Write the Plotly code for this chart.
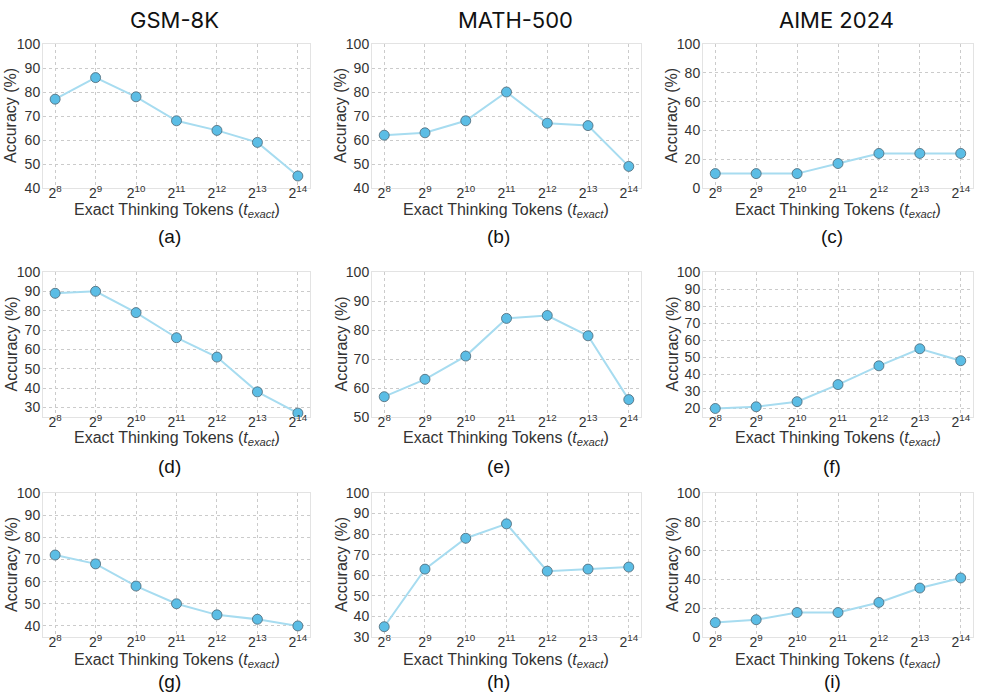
import plotly.graph_objects as go
import math

tokens = [256, 512, 1024, 2048, 4096, 8192, 16384]
tick_text = ["2<sup>8</sup>", "2<sup>9</sup>", "2<sup>10</sup>", "2<sup>11</sup>",
             "2<sup>12</sup>", "2<sup>13</sup>", "2<sup>14</sup>"]

datasets = ["GSM-8K", "MATH-500", "AIME 2024"]
panel_labels = ["(a)", "(b)", "(c)", "(d)", "(e)", "(f)", "(g)", "(h)", "(i)"]

acc_a = [77, 86, 78, 68, 64, 59, 45]
acc_b = [62, 63, 68, 80, 67, 66, 49]
acc_c = [10, 10, 10, 17, 24, 24, 24]
acc_d = [89, 90, 79, 66, 56, 38, 27]
acc_e = [57, 63, 71, 84, 85, 78, 56]
acc_f = [20, 21, 24, 34, 45, 55, 48]
acc_g = [72, 68, 58, 50, 45, 43, 40]
acc_h = [35, 63, 78, 85, 62, 63, 64]
acc_i = [10, 12, 17, 17, 24, 34, 41]

series = [acc_a, acc_b, acc_c, acc_d, acc_e, acc_f, acc_g, acc_h, acc_i]
y_ranges = [[40, 100], [40, 100], [0, 100],
            [25, 100], [50, 100], [15, 100],
            [35, 100], [30, 100], [0, 100]]
y_dticks = [10, 10, 20, 10, 10, 10, 10, 10, 20]

W, H = 997, 695
col_px = [(43, 310), (372, 641), (703, 973)]
row_px = [(44, 188), (272, 417), (493, 637)]
title_x_px = [174, 515, 836]
label_x_px = [169, 498, 832]
ytitle_x_px = [11, 341, 672]
xtitle_y_px = [210, 438, 660]
label_y_px = [236, 466, 681]


def px(v):
    return v / W


def py(v):
    return 1 - v / H


LINE = "#a7dcf0"
MARK = "#5bbde5"
TXT = "#333333"
FONT = "Liberation Sans, Arial, sans-serif"

fig = go.Figure()
annotations = []
lx = math.log10(2)
xr = [math.log10(256) - 0.3 * lx, math.log10(16384) + 0.3 * lx]

for i in range(9):
    r, c = divmod(i, 3)
    n = i + 1
    xa = "x" if n == 1 else f"x{n}"
    ya = "y" if n == 1 else f"y{n}"
    fig.add_trace(go.Scatter(
        x=tokens, y=series[i], xaxis=xa, yaxis=ya, mode="lines+markers",
        line=dict(color=LINE, width=2),
        marker=dict(size=10, color=MARK, line=dict(color="#4d6673", width=0.8)),
        showlegend=False, cliponaxis=False))
    x0, x1 = col_px[c]
    y0, y1 = row_px[r]
    axis_common = dict(showline=True, mirror=True, linecolor="#e3e3e3", linewidth=1,
                       showgrid=True, gridcolor="#cbcbcb", griddash="dot", gridwidth=0.8,
                       zeroline=False, ticks="", automargin=False)
    fig.layout[f"xaxis{'' if n == 1 else n}"] = dict(
        domain=[px(x0), px(x1)], anchor=ya, type="log", range=xr,
        tickvals=tokens, ticktext=tick_text, ticklabelstandoff=-8,
        tickfont=dict(family=FONT, size=14, color=TXT), **axis_common)
    fig.layout[f"yaxis{'' if n == 1 else n}"] = dict(
        domain=[py(y1), py(y0)], anchor=xa, range=y_ranges[i],
        dtick=y_dticks[i], tick0=0, ticklabelstandoff=-1,
        tickfont=dict(family=FONT, size=14, color=TXT), **axis_common)
    annotations.append(dict(
        text="Accuracy (%)", textangle=-90, x=px(ytitle_x_px[c]), y=py((y0 + y1) / 2),
        xref="paper", yref="paper", showarrow=False, xanchor="center", yanchor="middle",
        font=dict(family=FONT, size=16, color=TXT)))
    annotations.append(dict(
        text="Exact Thinking Tokens (<i>t</i><sub><i>exact</i></sub>)",
        x=px((x0 + x1) / 2), y=py(xtitle_y_px[r]),
        xref="paper", yref="paper", showarrow=False, xanchor="center", yanchor="middle",
        font=dict(family=FONT, size=16, color=TXT)))
    annotations.append(dict(
        text=panel_labels[i], x=px(label_x_px[c]), y=py(label_y_px[r]),
        xref="paper", yref="paper", showarrow=False, xanchor="center", yanchor="middle",
        font=dict(family=FONT, size=19, color="#111111")))

for c in range(3):
    annotations.append(dict(
        text=datasets[c], x=px(title_x_px[c]), y=py(20),
        xref="paper", yref="paper", showarrow=False, xanchor="center", yanchor="middle",
        font=dict(family="Inter, Noto Sans, sans-serif", size=22, color="#111111")))

fig.update_layout(width=W, height=H, margin=dict(l=0, r=0, t=0, b=0),
                  paper_bgcolor="white", plot_bgcolor="white",
                  annotations=annotations)
fig.write_html("out.html", config={"displayModeBar": False},
               post_script="document.body.style.margin='0px';document.body.style.overflow='hidden';")
